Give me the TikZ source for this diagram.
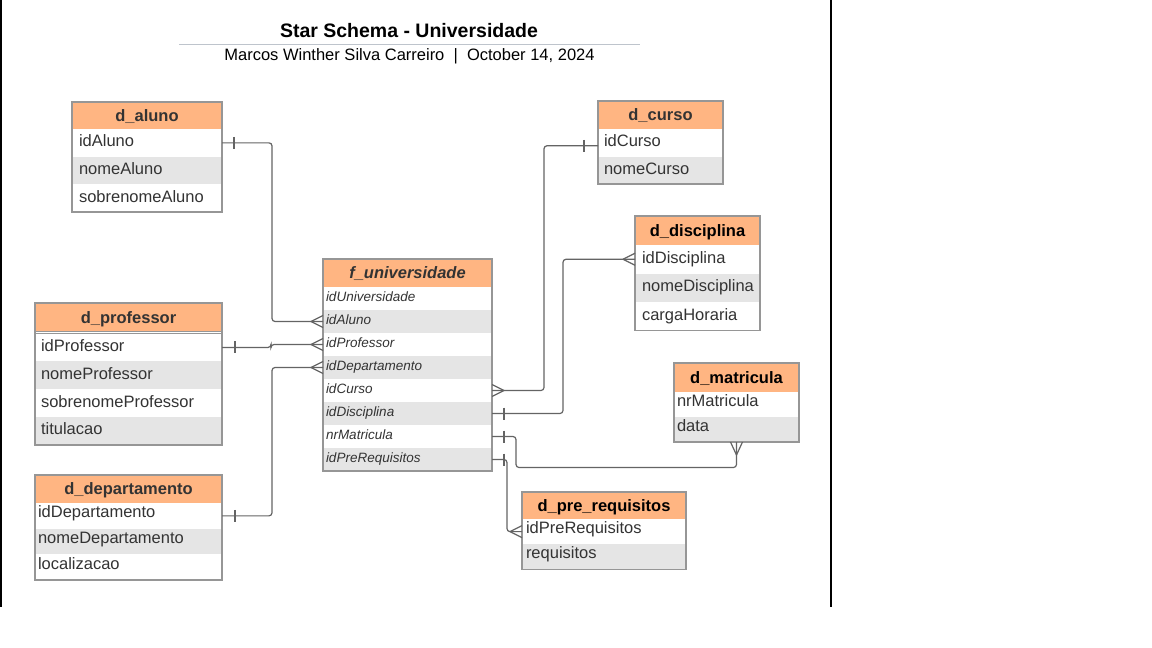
\documentclass[tikz,border=0pt]{standalone}
\usepackage{fontspec}
\setmainfont{Liberation Sans}
\usetikzlibrary{calc}
\definecolor{hdrfill}{RGB}{255,181,130}
\definecolor{rowgray}{RGB}{229,229,229}
\definecolor{bordercol}{RGB}{150,150,150}
\definecolor{linecol}{RGB}{100,100,100}
\definecolor{txt}{RGB}{51,51,51}
\definecolor{titleline}{RGB}{190,196,204}
\tikzset{
  cell/.style={rectangle, anchor=north west, inner ysep=0pt, outer sep=0pt, align=left, text=txt, font=\fontsize{16.5}{18}\selectfont, text height=12pt, text depth=4.5pt},
  rw/.style={cell, fill=white},
  rg/.style={cell, fill=rowgray},
  shortrow/.style={text depth=8pt},
  fw/.style={rw, font=\itshape\fontsize{13.5}{15}\selectfont, text height=10pt, text depth=5pt},
  fg/.style={rg, font=\itshape\fontsize{13.5}{15}\selectfont, text height=10pt, text depth=5pt},
  hdr/.style={rectangle, anchor=north west, inner sep=0pt, outer sep=0pt, fill=hdrfill, draw=bordercol, line width=1pt, font=\bfseries\fontsize{16.5}{18}\selectfont, text=txt, text height=12pt, text depth=0.5pt},
  frame/.style={draw=bordercol, line width=1.3pt},
  conn/.style={draw=linecol, line width=1.2pt, rounded corners=3pt},
  cf/.style={draw=linecol, line width=1.2pt},
}
\newcommand{\crowL}[1]{\draw[cf] ($(#1)+(-12,0)$) -- ($(#1)+(0,-6)$) ($(#1)+(-12,0)$) -- ($(#1)+(0,6)$);}
\newcommand{\crowR}[1]{\draw[cf] ($(#1)+(12,0)$) -- ($(#1)+(0,-6)$) ($(#1)+(12,0)$) -- ($(#1)+(0,6)$);}
\newcommand{\crowD}[1]{\draw[cf] ($(#1)+(0,13)$) -- ($(#1)+(-6,0)$) ($(#1)+(0,13)$) -- ($(#1)+(6,0)$);}
\newcommand{\barV}[3]{\draw[cf] ($(#1)+(#2,#3-6)$) -- ($(#1)+(#2,#3+6)$);}
\begin{document}
\begin{tikzpicture}[x=1pt,y=-1pt]
\useasboundingbox (0,0) rectangle (1152,648);
\fill[white] (0,0) rectangle (1152,648);
% page edges
\draw[line width=1.5pt] (1,0) -- (1,607);
\draw[line width=1.5pt] (831,0) -- (831,607);
% title
\node[font=\bfseries\fontsize{19.5}{22}\selectfont, text=black] (title) at (409,31) {Star Schema - Universidade};
\draw[titleline, line width=1pt] (179,44) -- (640,44);
\node[font=\fontsize{16.5}{19}\selectfont, text=black] (sub) at (409.5,56.5) {Marcos Winther Silva Carreiro\ \ |\ \ October 14, 2024};

% d_aluno
\node[hdr, minimum width=150, minimum height=27] (alh) at (72,102) {d\_aluno};
\node[rw, text width=136, inner xsep=7, minimum height=27.7] (al1) at (72,129) {idAluno};
\node[rg, text width=136, inner xsep=7, minimum height=27.7] (al2) at (72,156.7) {nomeAluno};
\node[rw, text width=136, inner xsep=7, minimum height=27.7] (al3) at (72,184.4) {sobrenomeAluno};
\draw[frame] (alh.north west) rectangle (al3.south east);

% d_curso
\node[hdr, minimum width=125, minimum height=28] (cuh) at (598,101) {d\_curso};
\node[rw, text width=113, inner xsep=6, minimum height=27.5] (cu1) at (598,129) {idCurso};
\node[rg, text width=113, inner xsep=6, minimum height=27.5] (cu2) at (598,156.5) {nomeCurso};
\draw[frame] (cuh.north west) rectangle (cu2.south east);

% d_disciplina
\node[hdr, minimum width=125, minimum height=29, text=black] (dih) at (635,216) {d\_disciplina};
\node[rw, text width=111, inner xsep=7, minimum height=28.5] (di1) at (635,245) {idDisciplina};
\node[rg, text width=111, inner xsep=7, minimum height=28.5] (di2) at (635,273.5) {nomeDisciplina};
\node[rw, text width=111, inner xsep=7, minimum height=28.5] (di3) at (635,302) {cargaHoraria};
\draw[frame] (dih.north west) rectangle (di3.south east);

% d_professor
\node[hdr, minimum width=187, minimum height=28.5] (prh) at (35,303) {d\_professor};
\node[rw, text width=175, inner xsep=6, minimum height=27.9] (pr1) at (35,333.5) {idProfessor};
\node[rg, text width=175, inner xsep=6, minimum height=27.9] (pr2) at (35,361.4) {nomeProfessor};
\node[rw, text width=175, inner xsep=6, minimum height=27.9] (pr3) at (35,389.3) {sobrenomeProfessor};
\node[rg, text width=175, inner xsep=6, minimum height=27.9] (pr4) at (35,417.2) {titulacao};
\draw[frame] (prh.north west) rectangle (pr4.south east);
\draw[draw=bordercol, line width=1pt] (pr1.north west) -- (pr1.north east);

% d_departamento
\node[hdr, minimum width=187, minimum height=28] (deh) at (35,475) {d\_departamento};
\node[rw, shortrow, text width=181, inner xsep=3, minimum height=25.7] (de1) at (35,503) {idDepartamento};
\node[rg, shortrow, text width=181, inner xsep=3, minimum height=25.7] (de2) at (35,528.7) {nomeDepartamento};
\node[rw, shortrow, text width=181, inner xsep=3, minimum height=25.7] (de3) at (35,554.4) {localizacao};
\draw[frame] (deh.north west) rectangle (de3.south east);

% f_universidade
\node[hdr, minimum width=169, minimum height=28, font=\bfseries\itshape\fontsize{16.5}{18}\selectfont] (fuh) at (323,259) {f\_universidade};
\node[fw, text width=163, inner xsep=3, minimum height=23] (fu1) at (323,287) {idUniversidade};
\node[fg, text width=163, inner xsep=3, minimum height=23] (fu2) at (323,310) {idAluno};
\node[fw, text width=163, inner xsep=3, minimum height=23] (fu3) at (323,333) {idProfessor};
\node[fg, text width=163, inner xsep=3, minimum height=23] (fu4) at (323,356) {idDepartamento};
\node[fw, text width=163, inner xsep=3, minimum height=23] (fu5) at (323,379) {idCurso};
\node[fg, text width=163, inner xsep=3, minimum height=23] (fu6) at (323,402) {idDisciplina};
\node[fw, text width=163, inner xsep=3, minimum height=23] (fu7) at (323,425) {nrMatricula};
\node[fg, text width=163, inner xsep=3, minimum height=23] (fu8) at (323,448) {idPreRequisitos};
\draw[frame] (fuh.north west) rectangle (fu8.south east);

% d_matricula
\node[hdr, minimum width=125, minimum height=29, text=black] (mah) at (674,363) {d\_matricula};
\node[rw, shortrow, text width=119, inner xsep=3, minimum height=25] (ma1) at (674,392) {nrMatricula};
\node[rg, shortrow, text width=119, inner xsep=3, minimum height=25] (ma2) at (674,417) {data};
\draw[frame] (mah.north west) rectangle (ma2.south east);

% d_pre_requisitos
\node[hdr, minimum width=164, minimum height=27, text=black] (pqh) at (522,492) {d\_pre\_requisitos};
\node[rw, shortrow, text width=156, inner xsep=4, minimum height=25.25] (pq1) at (522,519) {idPreRequisitos};
\node[rg, shortrow, text width=156, inner xsep=4, minimum height=25.25] (pq2) at (522,544.25) {requisitos};
\draw[frame] (pqh.north west) rectangle (pq2.south east);

% connectors
\draw[conn] (al1.east) -- ++(50,0) |- (fu2.west);
\barV{al1.east}{12}{0}
\crowL{fu2.west}

\draw[conn] (pr1.east) -- ++(49,0) |- (fu3.west);
\barV{pr1.east}{13}{0}
\crowL{fu3.west}

\draw[conn] (de1.east) -- ++(50,0) |- (fu4.west);
\barV{de1.east}{13}{0}
\crowL{fu4.west}

\draw[conn] (fu5.east) -- ++(52,0) |- ($(cu1.west)+(0,3)$);
\crowR{fu5.east}
\barV{cu1.west}{-14}{3}

\draw[conn] (fu6.east) -- ++(71,0) |- (di1.west);
\barV{fu6.east}{12}{0}
\crowL{di1.west}

\draw[conn] (fu7.east) -- ++(24,0) -- ++(0,31) -| (ma2.south);
\barV{fu7.east}{12}{0}
\crowD{ma2.south}

\draw[conn] (fu8.east) -- ++(15,0) |- (pq1.west);
\barV{fu8.east}{12}{0}
\crowL{pq1.west}
\end{tikzpicture}
\end{document}
